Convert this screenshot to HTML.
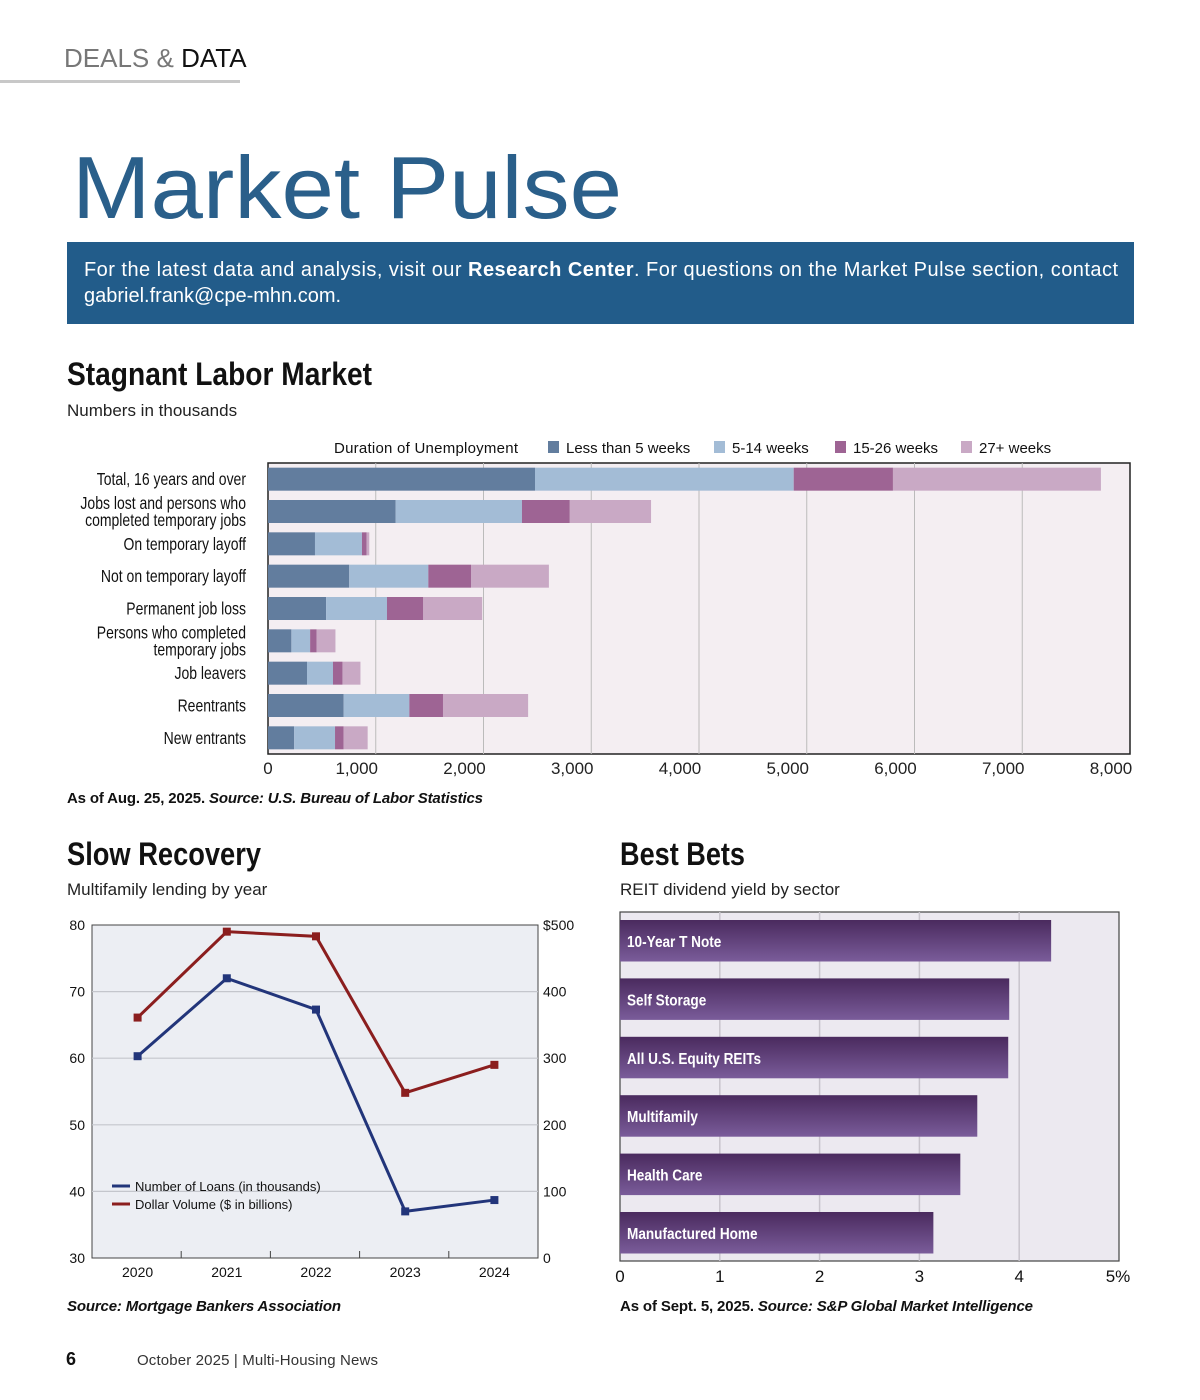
<!DOCTYPE html>
<html><head><meta charset="utf-8"><style>
body{margin:0;background:#fff;}
svg{display:block;font-family:"Liberation Sans",sans-serif;}
</style></head><body>
<svg id="pg" width="1200" height="1400" viewBox="0 0 1200 1400">
<text x="64" y="67" font-size="26" fill="#777">DEALS &amp; <tspan fill="#111">DATA</tspan></text>
<rect x="0" y="80" width="240" height="3" fill="#c8c8c8"/>
<text x="72" y="218" font-size="88" fill="#2a5f8a" textLength="550" lengthAdjust="spacingAndGlyphs">Market Pulse</text>
<rect x="67" y="242" width="1067" height="82" fill="#225c8a"/>
<text x="84" y="276" font-size="20" fill="#fff" textLength="1034">For the latest data and analysis, visit our <tspan font-weight="bold">Research Center</tspan>. For questions on the Market Pulse section, contact</text>
<text x="84" y="302" font-size="20" fill="#fff">gabriel.frank@cpe-mhn.com.</text>

<text x="67" y="385" font-size="32" font-weight="bold" fill="#111" textLength="305" lengthAdjust="spacingAndGlyphs">Stagnant Labor Market</text>
<text x="67" y="416" font-size="17" fill="#222">Numbers in thousands</text>
<g id="labor"></g>
<text x="67" y="803" font-size="15" font-weight="bold" fill="#111" textLength="416">As of Aug. 25, 2025. <tspan font-style="italic">Source: U.S. Bureau of Labor Statistics</tspan></text>

<text x="67" y="865" font-size="32" font-weight="bold" fill="#111" textLength="194" lengthAdjust="spacingAndGlyphs">Slow Recovery</text>
<text x="67" y="895" font-size="17" fill="#222">Multifamily lending by year</text>
<g id="lines"></g>
<text x="67" y="1311" font-size="15" font-weight="bold" font-style="italic" fill="#111" textLength="274">Source: Mortgage Bankers Association</text>

<text x="620" y="865" font-size="32" font-weight="bold" fill="#111" textLength="125" lengthAdjust="spacingAndGlyphs">Best Bets</text>
<text x="620" y="895" font-size="17" fill="#222">REIT dividend yield by sector</text>
<g id="bets"></g>
<text x="620" y="1311" font-size="15" font-weight="bold" fill="#111" textLength="413">As of Sept. 5, 2025. <tspan font-style="italic">Source: S&amp;P Global Market Intelligence</tspan></text>

<text x="66" y="1365" font-size="18" font-weight="bold" fill="#111">6</text>
<text x="137" y="1365" font-size="15" fill="#333" textLength="241">October 2025  |  Multi-Housing News</text>
<defs>
<linearGradient id="pg1" x1="0" y1="0" x2="0" y2="1"><stop offset="0" stop-color="#4a2a5e"/><stop offset="1" stop-color="#7a5c9a"/></linearGradient>
</defs>
</svg>
<script>
// ---- Labor chart data ----
const laborCats = [["Total, 16 years and over"],["Jobs lost and persons who","completed temporary jobs"],["On temporary layoff"],["Not on temporary layoff"],["Permanent job loss"],["Persons who completed","temporary jobs"],["Job leavers"],["Reentrants"],["New entrants"]];
const lessThan5 = [2478,1185,436,754,539,217,362,702,243];
const w5to14 = [2401,1172,436,734,565,174,241,610,379];
const w15to26 = [921,444,43,396,337,61,88,312,80];
const w27plus = [1930,754,25,723,547,174,167,790,223];
const laborTicks = [0,1000,2000,3000,4000,5000,6000,7000,8000];
const laborSeriesNames = ["Less than 5 weeks","5-14 weeks","15-26 weeks","27+ weeks"];
// ---- Line chart data ----
const years = ["2020","2021","2022","2023","2024"];
const loans = [60.3,72,67.3,37,38.7];
const volume = [361,490,483,248,290];
const leftTicks = [30,40,50,60,70,80];
const rightTicks = ["0","100","200","300","400","$500"];
// ---- Best bets data ----
const sectors = ["10-Year T Note","Self Storage","All U.S. Equity REITs","Multifamily","Health Care","Manufactured Home"];
const yields = [4.32,3.90,3.89,3.58,3.41,3.14];
const betTicks = ["0","1","2","3","4","5%"];

const NS="http://www.w3.org/2000/svg";
function mk(parent,tag,attrs,text){const e=document.createElementNS(NS,tag);for(const k in attrs)e.setAttribute(k,attrs[k]);if(text!==undefined)e.textContent=text;parent.appendChild(e);return e;}

// Labor chart
(function(){
const g=document.getElementById('labor');
const x0=268,x1=1130,y0=463,y1=754;
const xs=v=>x0+(v/8000)*(x1-x0);
const rowH=(y1-y0)/9;
const yc=i=>y0+rowH*(i+0.5);
const cols=["#627d9e","#a3bcd6","#9e6494","#c9a9c5"];
let e=mk(g,'rect',{x:x0,y:y0,width:x1-x0,height:y1-y0,fill:"#f4eef2",stroke:"#222","stroke-width":1.5});


laborTicks.forEach((t,i)=>{
 if(i>0&&i<8){const l=mk(g,'line',{x1:xs(t),x2:xs(t),y1:y0,y2:y1,stroke:"#bbb"});
 
 }
 const tx=mk(g,'text',{x:i==0?xs(t):xs(t)-19,y:774,"font-size":17,"text-anchor":"middle",fill:"#222"},t.toLocaleString('en-US'));
 
 
});
const series=[lessThan5,w5to14,w15to26,w27plus];
laborCats.forEach((c,i)=>{
 let acc=0;
 series.forEach((s,k)=>{
  const r=mk(g,'rect',{x:xs(acc),y:yc(i)-11.5,width:xs(acc+s[i])-xs(acc),height:23,fill:cols[k]});
  
  
  acc+=s[i];
 });
 const t=mk(g,'text',{transform:"translate(246,0) scale(0.8,1)","text-anchor":"end","font-size":17.5,fill:"#111"});
 
 
 c.forEach((ln,j)=>{mk(t,'tspan',{x:0,y:yc(i)+6+(c.length>1?(j-0.5)*17:0)},ln);});
});
const lt=mk(g,'text',{x:334,y:453,"font-size":15,fill:"#111",textLength:184},"Duration of Unemployment");


const lx=[548,714,835,961];
laborSeriesNames.forEach((n,k)=>{
 const r=mk(g,'rect',{x:lx[k],y:441,width:11,height:12,fill:cols[k]});
 
 
 const t=mk(g,'text',{x:lx[k]+18,y:453,"font-size":15,fill:"#111"},n);
 
 
});
})();

// Line chart
(function(){
const g=document.getElementById('lines');
const x0=92,x1=538,y0=925,y1=1258;
const cw=(x1-x0)/years.length;
const xc=i=>x0+cw*(i+0.5)+1;
const yl=v=>y1-(v-30)/50*(y1-y0);
const yr=v=>y1-v/500*(y1-y0);
let e=mk(g,'rect',{x:x0,y:y0,width:x1-x0,height:y1-y0,fill:"#eceef3",stroke:"#444","stroke-width":1});


leftTicks.forEach((t,i)=>{
 if(i>0&&i<5){const l=mk(g,'line',{x1:x0,x2:x1,y1:yl(t),y2:yl(t),stroke:"#c4c6cc","stroke-width":1.2});
 
 }
 const a=mk(g,'text',{x:85,y:yl(t)+5,"text-anchor":"end","font-size":14,fill:"#111"},t);
 
 
 const b=mk(g,'text',{x:543,y:yl(t)+5,"font-size":14,fill:"#111"},rightTicks[i]);
 
 
});
years.forEach((y,i)=>{
 if(i>0){const l=mk(g,'line',{x1:x0+cw*i,x2:x0+cw*i,y1:y1,y2:y1-7,stroke:"#444"});
 
 }
 const t=mk(g,'text',{x:xc(i),y:1277,"text-anchor":"middle","font-size":14,fill:"#111"},y);
 
 
});
function line(vals,f,col,name){
 const p=mk(g,'polyline',{points:vals.map((v,i)=>xc(i)+","+f(v)).join(" "),fill:"none",stroke:col,"stroke-width":3});
 
 
 vals.forEach((v,i)=>{const r=mk(g,'rect',{x:xc(i)-4,y:f(v)-4,width:8,height:8,fill:col});
 
 });
}
line(volume,yr,"#8b1e1e","volume");
line(loans,yl,"#22357a","loans");
[["Number of Loans (in thousands)","#22357a",1186],["Dollar Volume ($ in billions)","#8b1e1e",1204]].forEach(d=>{
 const l=mk(g,'line',{x1:112,x2:130,y1:d[2],y2:d[2],stroke:d[1],"stroke-width":3});
 
 
 const t=mk(g,'text',{x:135,y:d[2]+5,"font-size":13,fill:"#111"},d[0]);
 
 
});
})();

// Best bets
(function(){
const g=document.getElementById('bets');
const x0=620,x1=1119,y0=912,y1=1261;
const xs=v=>x0+v/5*(x1-x0);
let e=mk(g,'rect',{x:x0,y:y0,width:x1-x0,height:y1-y0,fill:"#ece9f0",stroke:"#444","stroke-width":1.2});


betTicks.forEach((t,i)=>{
 if(i>0&&i<5){const l=mk(g,'line',{x1:xs(i),x2:xs(i),y1:y0,y2:y1,stroke:"#c8c4cc","stroke-width":1.5});
 
 }
 const tx=mk(g,'text',{x:xs(i),y:1282,"text-anchor":"middle","font-size":17,fill:"#111"},t);
 if(i==5)tx.setAttribute('x',xs(i)-1);
 
 
});
const step=58.4;
sectors.forEach((s,i)=>{
 const yt=y0+8+step*i;
 const r=mk(g,'rect',{x:x0,y:yt,width:xs(yields[i])-x0,height:41.5,fill:"url(#pg1)"});
 
 
 const t=mk(g,'text',{transform:"translate(627,"+(yt+27)+") scale(0.85,1)",x:0,y:0,"font-size":16,"font-weight":"bold",fill:"#fff"},s);
 
 
});
})();
</script>
</body></html>
